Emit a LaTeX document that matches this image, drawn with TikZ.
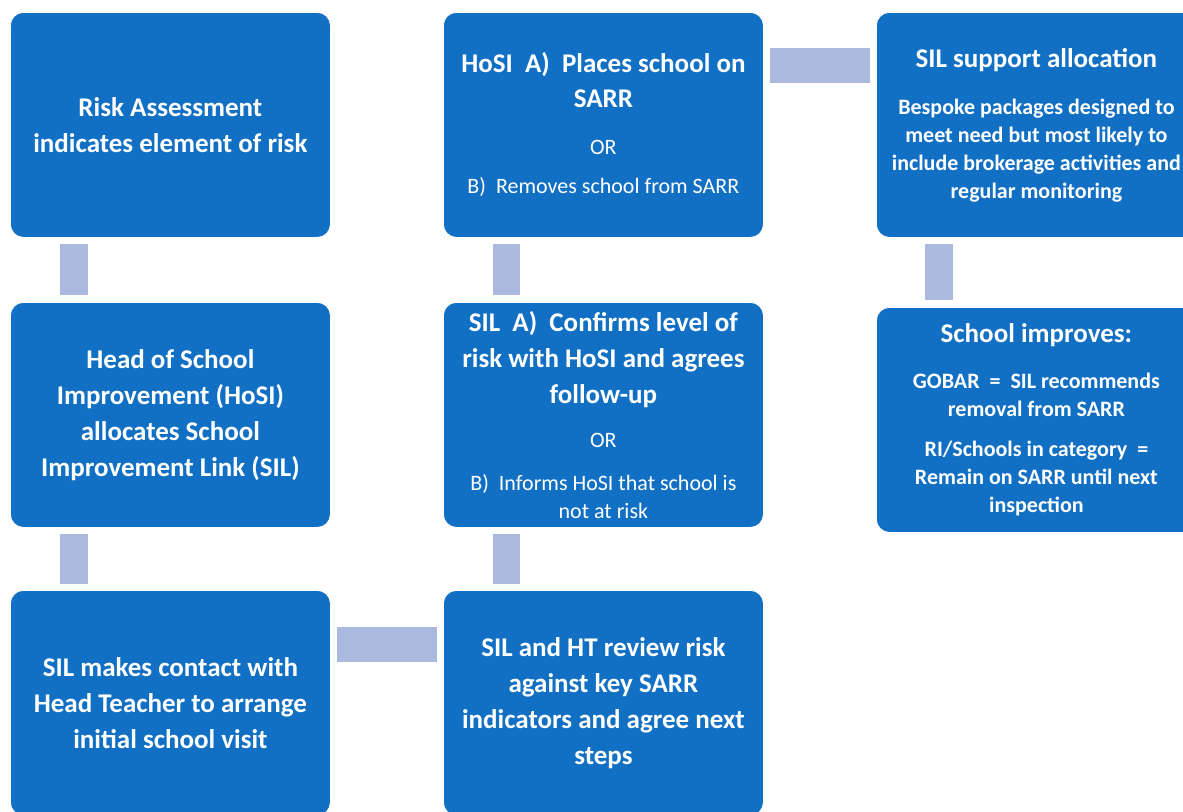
\documentclass[tikz,border=0pt]{standalone}
\usepackage{fontspec}
\setmainfont{Carlito}
\usetikzlibrary{calc}
\definecolor{boxblue}{HTML}{1170C4}
\definecolor{linkblue}{HTML}{AAB9DD}
\newcommand{\bigb}{\fontsize{27}{28}\selectfont\bfseries}
\newcommand{\smallr}{\fontsize{22}{28}\selectfont\mdseries}
\newcommand{\smallb}{\fontsize{22}{28}\selectfont\bfseries}
\begin{document}
\begin{tikzpicture}[x=1pt,y=-1pt,
  stepbox/.style={draw=white, line width=0.8pt, fill=boxblue, rounded corners=13pt,
    minimum width=320pt, minimum height=225pt, text=white, align=center,
    inner sep=0pt, anchor=north west, font=\bigb},
  link/.style={fill=linkblue}]
\useasboundingbox (0,0) rectangle (1183,811);
\clip (0,0) rectangle (1183,811);

\node[stepbox] (risk) at (10,12) {Risk Assessment\\[8pt]indicates element of risk};
\node[stepbox] (hosi) at (10,302) {Head of School\\[8pt]Improvement (HoSI)\\[8pt]allocates School\\[8pt]Improvement Link (SIL)};
\node[stepbox] (contact) at (10,590) {SIL makes contact with\\[8pt]Head Teacher to arrange\\[8pt]initial school visit};

\node[stepbox] (place) at (443,12) {HoSI\ \ A)\ \ Places school on\\[7pt]SARR\\[19pt]\smallr OR\\[11pt]\smallr B)\ \ Removes school from SARR};
\node[stepbox] (confirm) at (443,302) {SIL\ \ A)\ \ Confirms level of\\[8pt]risk with HoSI and agrees\\[8pt]follow-up\\[16pt]\smallr OR\\[15pt]\smallr B)\ \ Informs HoSI that school is\\\smallr not at risk};
\node[stepbox] (review) at (443,590) {SIL and HT review risk\\[8pt]against key SARR\\[8pt]indicators and\ agree next\\[8pt]steps};

\node[stepbox] (support) at (876,12) {SIL support allocation\\[19pt]\smallb Bespoke packages designed to\\\smallb meet need but most likely to\\\smallb include brokerage activities and\\\smallb regular monitoring};
\node[stepbox] (improve) at (876,307) {School improves:\\[18pt]\smallb GOBAR\ \ =\ \ SIL recommends\\\smallb removal from SARR\\[12pt]\smallb RI/Schools in category\ \ =\\\smallb Remain on SARR until next\\\smallb inspection};

% connectors
\fill[link] ($(risk.south west)+(50,6)$) rectangle ($(hosi.north west)+(78,-7)$);
\fill[link] ($(hosi.south west)+(50,6)$) rectangle ($(contact.north west)+(78,-6)$);
\fill[link] ($(contact.north east)+(6,37)$) rectangle ($(review.north west)+(-6,72)$);
\fill[link] ($(review.north west)+(50,-6)$) rectangle ($(confirm.south west)+(77,6)$);
\fill[link] ($(confirm.north west)+(50,-7)$) rectangle ($(place.south west)+(77,6)$);
\fill[link] ($(place.north east)+(6,36)$) rectangle ($(support.north west)+(-6,71)$);
\fill[link] ($(support.south west)+(49,6)$) rectangle ($(improve.north west)+(77,-7)$);
\end{tikzpicture}
\end{document}
